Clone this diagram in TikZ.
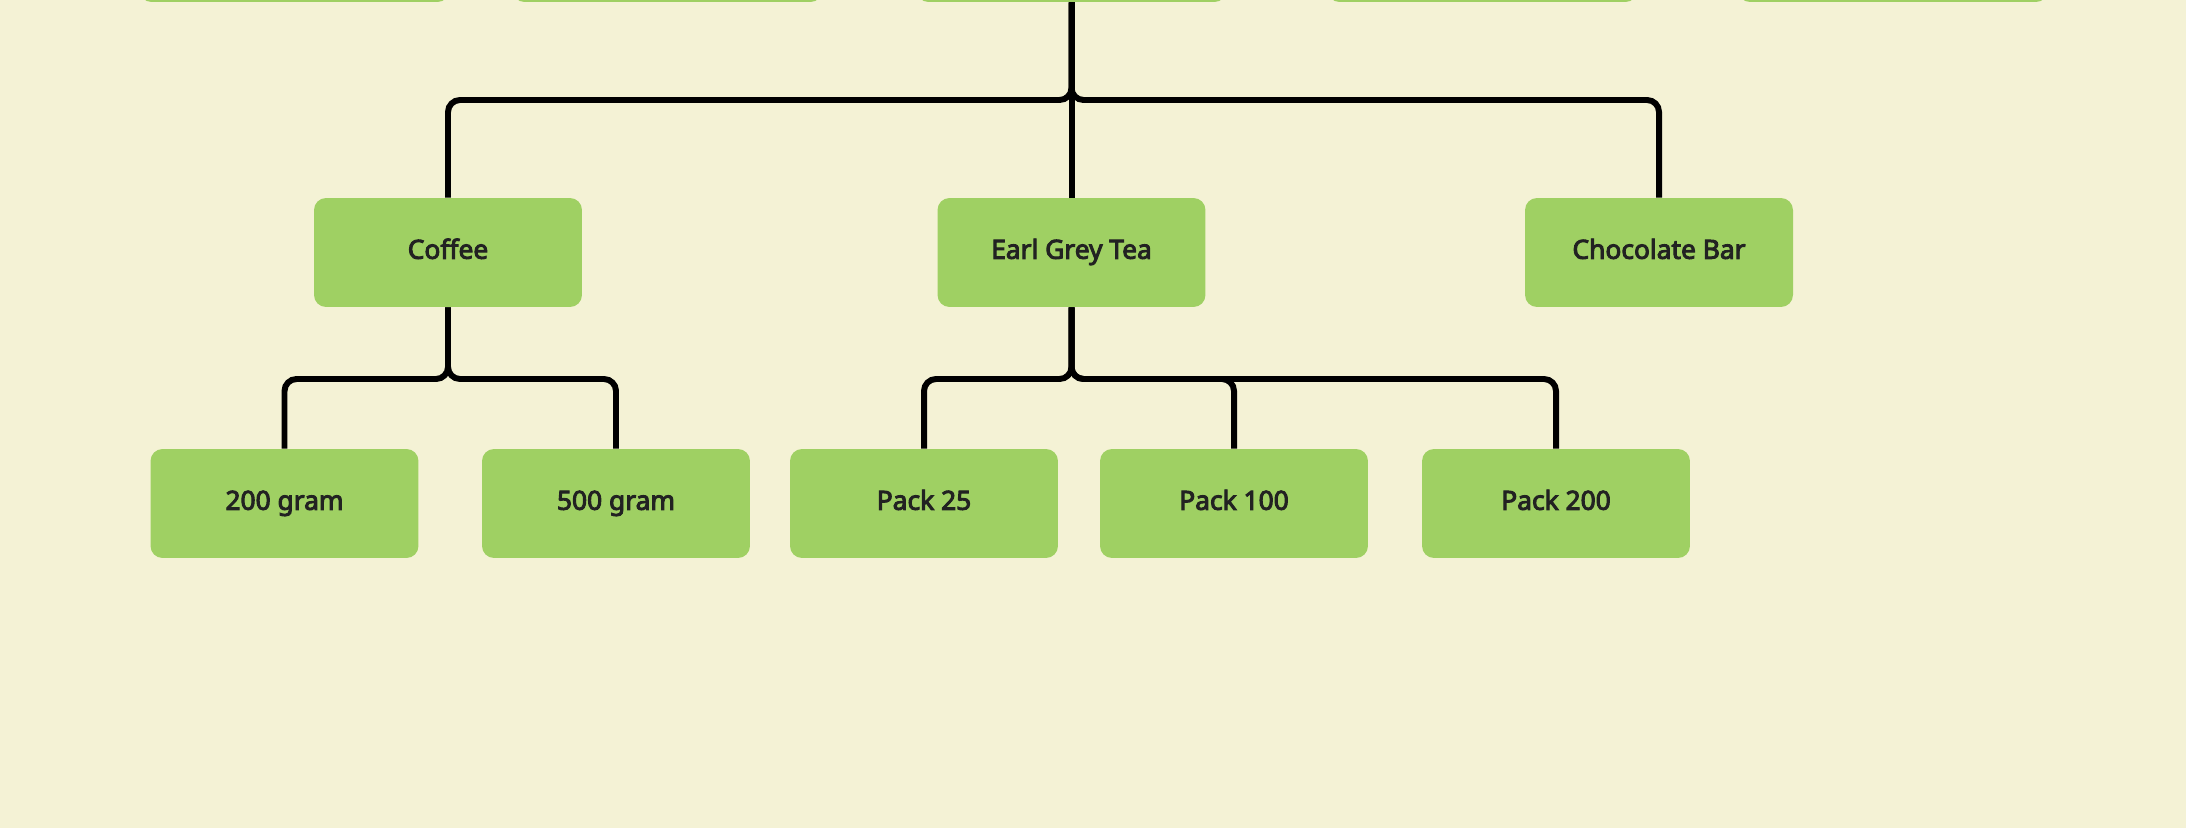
\documentclass[tikz,border=0pt]{standalone}
\usepackage{fontspec}
\setmainfont{Noto Sans}[BoldFont={Noto Sans}, BoldFeatures={FakeBold=3.6}]
\usepackage{tikz}
\usetikzlibrary{positioning}

\definecolor{paper}{RGB}{244,242,213}
\definecolor{leaf}{RGB}{159,208,99}
\definecolor{ink}{RGB}{34,34,34}

\tikzset{
    item/.style={fill=leaf, rounded corners=0.24cm, minimum width=5.36cm, minimum height=2.18cm,
        inner sep=0pt, text height=0.714em, text depth=0pt, text=ink,
        font=\fontsize{15}{18}\selectfont\bfseries},
    topitem/.style={item, minimum width=6.2cm},
    link/.style={line width=3.4pt, rounded corners=0.24cm, draw=black}
}

\begin{document}
\begin{tikzpicture}[x=0.02cm, y=-0.02cm]
    \fill[paper] (0,0) rectangle (2186,828);
    \useasboundingbox (0,0) rectangle (2186,828);

    % Nodes
    \begin{scope}
        \clip (0,0) rectangle (2186,828);
        \node[topitem] (topA) at (294.5,-52.5) {};
        \node[topitem] (topB) at (667.5,-52.5) {};
        \node[topitem] (topC) at (1071.5,-52.5) {};
        \node[topitem] (topD) at (1482.5,-52.5) {};
        \node[topitem] (topE) at (1893,-52.5) {};
    \end{scope}

    \node[item] (coffee) at (448,252.5) {Coffee};
    \node[item] (tea) at (1071.5,252.5) {Earl Grey Tea};
    \node[item] (choc) at (1659,252.5) {Chocolate Bar};

    \node[item] (gram200) at (284.5,503.5) {200 gram};
    \node[item] (gram500) at (616,503.5) {500 gram};
    \node[item] (pack25) at (924,503.5) {Pack 25};
    \node[item] (pack100) at (1234,503.5) {Pack 100};
    \node[item] (pack200) at (1556,503.5) {Pack 200};

    \coordinate (barTop) at (1071.5,100);
    \coordinate (barCoffee) at (448,379);
    \coordinate (barTea) at (1071.5,379);

    % Arrows
    \draw[link] (topC.south) -- (topC.south |- barTop) -| (coffee.north);
    \draw[link] (topC.south) -- (tea.north);
    \draw[link] (topC.south) -- (topC.south |- barTop) -| (choc.north);

    \draw[link] (coffee.south) -- (coffee.south |- barCoffee) -| (gram200.north);
    \draw[link] (coffee.south) -- (coffee.south |- barCoffee) -| (gram500.north);

    \draw[link] (tea.south) -- (tea.south |- barTea) -| (pack25.north);
    \draw[link] (tea.south) -- (tea.south |- barTea) -| (pack100.north);
    \draw[link] (tea.south) -- (tea.south |- barTea) -| (pack200.north);
\end{tikzpicture}
\end{document}
